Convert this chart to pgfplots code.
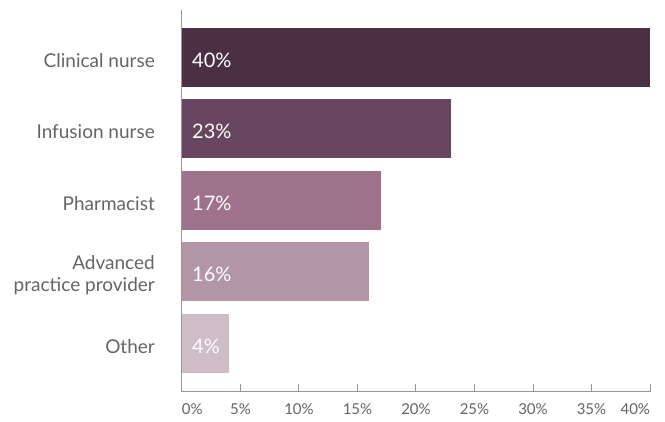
\documentclass[border=0pt]{standalone}
\usepackage{pgfplots}
\pgfplotsset{compat=1.18}
\usepackage{pgfplotstable}
\usepackage{fontspec}
\setmainfont{Lato}
\definecolor{c1}{RGB}{75,48,68}
\definecolor{c2}{RGB}{104,70,96}
\definecolor{c3}{RGB}{158,114,140}
\definecolor{c4}{RGB}{178,150,168}
\definecolor{c5}{RGB}{206,188,198}
\definecolor{axisgray}{RGB}{150,150,150}
\definecolor{txt}{RGB}{100,100,100}
\pgfplotstableread{
pos value
4 40
3 23
2 17
1 16
0 4
}\datatable
\begin{document}
\begin{tikzpicture}[x=1pt,y=1pt]
\useasboundingbox (0,0) rectangle (665,421);
\begin{axis}[
  at={(182pt,29pt)}, anchor=south west,
  scale only axis, width=468pt, height=382pt,
  xbar, bar width=59pt, bar shift=0pt,
  xmin=0, xmax=40, ymin=-0.68, ymax=4.66,
  axis lines*=left,
  axis line style={axisgray, line width=1pt},
  /pgf/number format/assume math mode=true,
  ytick={0,1,2,3,4},
  yticklabels={Other, Advanced\\practice provider, Pharmacist, Infusion nurse, Clinical nurse},
  yticklabel style={align=right, inner sep=0pt, xshift=-27pt, yshift=-3pt, font=\fontsize{19}{22}\selectfont, text=txt},
  ytick style={draw=none},
  xtick={0,5,10,15,20,25,30,35,40},
  xticklabels={\makebox[0pt][l]{0\%},5\%,10\%,15\%,20\%,25\%,30\%,35\%,\makebox[0pt][r]{40\%}},
  xticklabel style={anchor=north, inner sep=0pt, yshift=-11pt, font=\fontsize{15}{16}\selectfont, text=txt},
  xtick style={axisgray, line width=1pt},
  tick align=inside, major tick length=8pt,
  clip=false,
]
\addplot[draw=none, fill=c1] coordinates {(40,4)};
\addplot[draw=none, fill=c2] coordinates {(23,3)};
\addplot[draw=none, fill=c3] coordinates {(17,2)};
\addplot[draw=none, fill=c4] coordinates {(16,1)};
\addplot[draw=none, fill=c5] coordinates {(4,0)};
\addplot[draw=none, mark=none, xbar=0pt, bar width=0pt, nodes near coords={\pgfmathprintnumber{\pgfplotspointmeta}\%},
  nodes near coords style={anchor=west, text=white, inner sep=0pt, xshift=10pt, yshift=-3pt, font=\fontsize{20}{22}\selectfont},
  point meta=explicit] table[x expr=0, y=pos, meta=value] {\datatable};
\end{axis}
\end{tikzpicture}
\end{document}
